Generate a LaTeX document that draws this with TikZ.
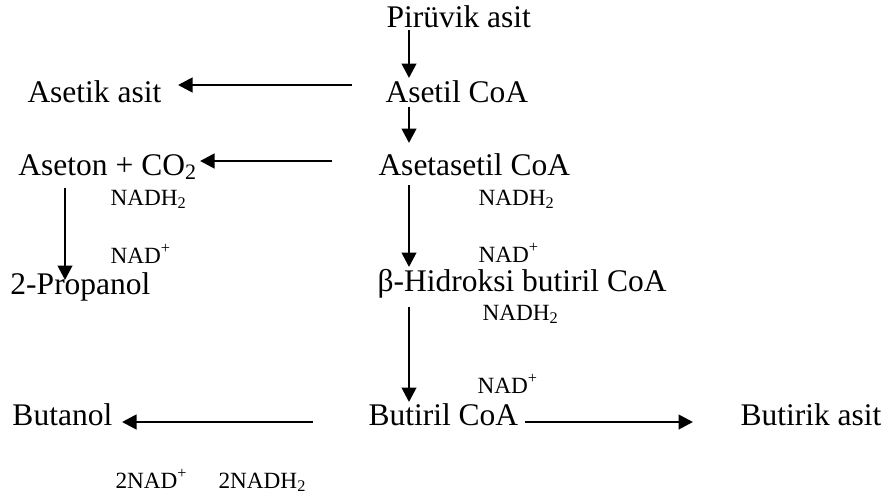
\documentclass[tikz,border=0pt]{standalone}
\usepackage{fontspec}
\setmainfont{Liberation Serif}
\usetikzlibrary{arrows.meta,calc}

\begin{document}
\begin{tikzpicture}[x=0.4pt,y=-0.4pt]
\tikzstyle{every node}=[inner sep=0pt,anchor=base west]
\tikzstyle{compound}=[font=\fontsize{12.6}{15}\selectfont]
\tikzstyle{cofactor}=[font=\fontsize{9.3}{11}\selectfont]
\tikzstyle{rxn}=[-{Triangle[length=5.8pt,width=5.8pt]},line width=1.1pt]
\useasboundingbox (0,0) rectangle (892,495);
% main pathway
\node[compound] (piruvik) at (386,27) {Pirüvik asit};
\node[compound] (asetil) at (385,102) {Asetil CoA};
\node[compound] (asetasetil) at (378,175) {Asetasetil CoA};
\node[compound] (hidroksi) at (377,291) {β-Hidroksi butiril CoA};
\node[compound] (butiril) at (368,425) {Butiril CoA};
% side products
\node[compound] (asetik) at (27,102) {Asetik asit};
\node[compound] (aseton) at (18,175) {Aseton + CO\textsubscript{2}};
\node[compound] (propanol) at (10,294) {2-Propanol};
\node[compound] (butanol) at (12,425) {Butanol};
\node[compound] (butirik) at (740,425) {Butirik asit};
% cofactors
\node[cofactor] (nadh1) at (110,205) {NADH\textsubscript{2}};
\node[cofactor] (nad1) at (110,263) {NAD\textsuperscript{+}};
\node[cofactor] (nadh2) at (478,205) {NADH\textsubscript{2}};
\node[cofactor] (nad2) at (478,262) {NAD\textsuperscript{+}};
\node[cofactor] (nadh3) at (482,320) {NADH\textsubscript{2}};
\node[cofactor] (nad3) at (477,393) {NAD\textsuperscript{+}};
\node[cofactor] (nad4) at (115,488) {2NAD\textsuperscript{+}};
\node[cofactor] (nadh4) at (218,488) {2NADH\textsubscript{2}};

\draw[rxn] ($(piruvik.base west)+(23,3)$) -- ($(asetil.base west)+(24,-24)$);
\draw[rxn] ($(asetil.base west)+(24,5)$) -- ($(asetasetil.base west)+(31,-32)$);
\draw[rxn] ($(asetasetil.base west)+(31,10)$) -- ($(hidroksi.base west)+(32,-24)$);
\draw[rxn] ($(hidroksi.base west)+(32,16)$) -- ($(butiril.base west)+(41,-23)$);
\draw[rxn] ($(aseton.base west)+(47,13)$) -- ($(propanol.base west)+(55,-14)$);
\draw[rxn] ($(asetil.base west)+(-33,-17)$) -- ($(asetik.base west)+(151,-17)$);
\draw[rxn] ($(asetasetil.base west)+(-46,-14)$) -- ($(aseton.base west)+(182,-14)$);
\draw[rxn] ($(butiril.base west)+(-55,-3)$) -- ($(butanol.base west)+(110,-3)$);
\draw[rxn] ($(butiril.base west)+(157,-3)$) -- ($(butirik.base west)+(-47,-3)$);
\end{tikzpicture}
\end{document}
